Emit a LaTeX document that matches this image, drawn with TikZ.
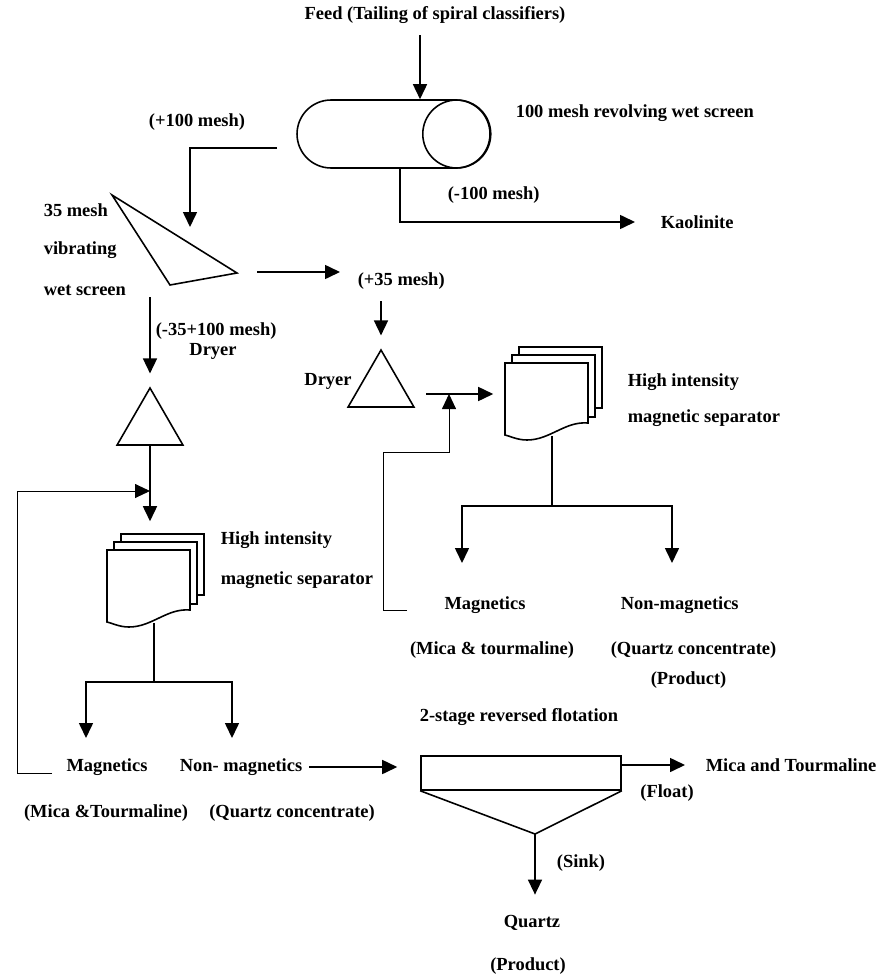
\documentclass[tikz,border=0pt]{standalone}
\usepackage{fontspec}
\setmainfont{Liberation Serif}
\usetikzlibrary{arrows.meta,shapes.misc,shapes.geometric}

% stacked magnetic separator, #1 name, (#2,#3) top left of front sheet
\newcommand{\magsep}[3]{%
  \draw[fill=white] (#2+14,#3-16) rectangle (#2+97,#3+45);
  \draw[fill=white] (#2+7,#3-8) rectangle (#2+90,#3+54);
  \draw[fill=white] (#2,#3) -- (#2+83,#3) -- (#2+83,#3+60)
    .. controls (#2+60,#3+58) and (#2+45,#3+77) .. (#2+22,#3+77)
    .. controls (#2+12,#3+77) and (#2+5,#3+73) .. (#2,#3+72) -- cycle;
  \node[inner sep=0, minimum width=1.66cm, minimum height=1.44cm] (#1) at (#2+41.5,#3+36) {};
}

\begin{document}
\begin{tikzpicture}[x=0.02cm, y=-0.02cm, >={Triangle[length=3mm,width=2.8mm]},
    line width=0.9pt, font=\fontsize{10.5}{12}\selectfont\bfseries,
    txt/.style={inner sep=0},
    dryer/.style={draw, regular polygon, regular polygon sides=3, minimum size=1.52cm, inner sep=0},
    recycle/.style={line width=0.5pt}]

	\useasboundingbox (0,0) rectangle (876,977);

	\node[txt] (feed) at (435,15) {Feed (Tailing of spiral classifiers)};
	\node[draw, rounded rectangle, minimum width=3.86cm, minimum height=1.36cm, inner sep=0] (rws) at (393.5,134) {};
	\draw ([xshift=-0.68cm]rws.east) circle (0.68cm);
	\node[txt, anchor=west] (rwsl) at (515,113) {100 mesh revolving wet screen};
	\node[txt] (p100) at (197,122) {(+100 mesh)};
	\node[txt, anchor=west] (m100) at (447,195) {(-100 mesh)};
	\node[txt, anchor=west] (kaol) at (660,222) {Kaolinite};

	\draw[->] ([xshift=-0.3cm,yshift=-0.22cm]feed.south) -- ([xshift=-0.3cm]feed.south |- rws.north);
	\draw[->] ([xshift=0.13cm]rws.south) |- ([xshift=-0.5cm]kaol.west);

	\coordinate (vs1) at (112,195);
	\coordinate (vs2) at (237,273);
	\coordinate (vs3) at (170,285);
	\draw (vs1) -- (vs2) -- (vs3) -- cycle;
	\node[txt, anchor=west] (vsl1) at (43,210) {35 mesh};
	\node[txt, anchor=west] (vsl2) at (43,250) {vibrating};
	\node[txt, anchor=west] (vsl3) at (43,290) {wet screen};

	\coordinate (ovr) at (277,148);
	\coordinate (vsin) at (190,227);
	\draw[->] (ovr) -| (vsin);

	\coordinate (vsout) at (257,272);
	\node[txt, anchor=west] (p35) at (357,281) {(+35 mesh)};
	\draw[->] (vsout) -- ++(83,0);

	\node[dryer] (dry1) at (150,426) {};
	\node[dryer] (dry2) at (381,388) {};
	\node[txt, anchor=west] (m35) at (155,331) {(-35+100 mesh)};
	\node[txt] (dryl1) at (213,351) {Dryer};
	\node[txt] (dryl2) at (328,381) {Dryer};

	\coordinate (vsdn) at (150,297);
	\draw[->] (vsdn) -- ([yshift=0.26cm]dry1.north);
	\draw[->] ([yshift=-0.22cm]dry2.north |- p35.south) -- ([yshift=0.26cm]dry2.north);

	\magsep{mag1}{107}{550}
	\magsep{mag2}{505}{363}
	\node[txt, anchor=west] (hi1) at (220,540) {High intensity};
	\node[txt, anchor=west] (ms1) at (220,580) {magnetic separator};
	\node[txt, anchor=west] (hi2) at (627,382) {High intensity};
	\node[txt, anchor=west] (ms2) at (627,418) {magnetic separator};

	\draw[->] (dry1.south) -- ([yshift=0.56cm]dry1.south |- mag1.north);
	\coordinate (d2out) at (426,394);
	\draw[->] (d2out) -- ([xshift=-0.22cm]mag2.west |- d2out);

	\coordinate (br2) at (552,506);
	\coordinate (t2a) at (462,563);
	\coordinate (t2b) at (672,563);
	\draw (mag2.south -| br2) -- (br2);
	\draw[->] (br2) -| (t2a);
	\draw[->] (br2) -| (t2b);
	\node[txt] (mg2) at (485,605) {Magnetics};
	\node[txt] (mt2) at (492,650) {(Mica \& tourmaline)};
	\node[txt, anchor=west] (nm2) at (620,605) {Non-magnetics};
	\node[txt, anchor=west] (qc2) at (610,650) {(Quartz concentrate)};
	\node[txt, anchor=west] (pr2) at (650,680) {(Product)};

	\coordinate (rc2) at (407,610);
	\coordinate (jn2) at (449,394);
	\draw[recycle,->] (rc2) -- ++(-24,0) |- ++(66,-158) -- (jn2);

	\coordinate (br1) at (154,682);
	\coordinate (t1a) at (86,738);
	\coordinate (t1b) at (232,738);
	\draw (mag1.south -| br1) -- (br1);
	\draw[->] (br1) -| (t1a);
	\draw[->] (br1) -| (t1b);
	\node[txt] (mg1) at (107,767) {Magnetics};
	\node[txt] (mt1) at (106,813) {(Mica \&Tourmaline)};
	\node[txt] (nm1) at (241,767) {Non- magnetics};
	\node[txt] (qc1) at (292,813) {(Quartz concentrate)};

	\coordinate (rc1) at (52,773);
	\coordinate (jn1) at (150,491);
	\draw[recycle,->] (rc1) -- ++(-35,0) |- (jn1);

	\node[txt] (flotl) at (519,717) {2-stage reversed flotation};
	\node[draw, minimum width=4cm, minimum height=0.68cm, inner sep=0] (flot) at (521,773) {};
	\coordinate (fapex) at (535,834);
	\draw (flot.south west) -- (fapex) -- (flot.south east);
	\draw[->] ([xshift=0.12cm]nm1.east) -- ([xshift=-0.46cm]flot.west |- nm1.east);

	\node[txt, anchor=west] (mica) at (705,765) {Mica and Tourmaline};
	\node[txt] (float) at (667,793) {(Float)};
	\draw[->] ([yshift=0.16cm]flot.east) -- ([xshift=-0.4cm]mica.west);

	\node[txt] (sink) at (581,863) {(Sink)};
	\node[txt] (qz) at (532,923) {Quartz};
	\node[txt] (pr3) at (528,966) {(Product)};
	\draw[->] (fapex) -- ([yshift=0.4cm]fapex |- qz.north);
\end{tikzpicture}
\end{document}
